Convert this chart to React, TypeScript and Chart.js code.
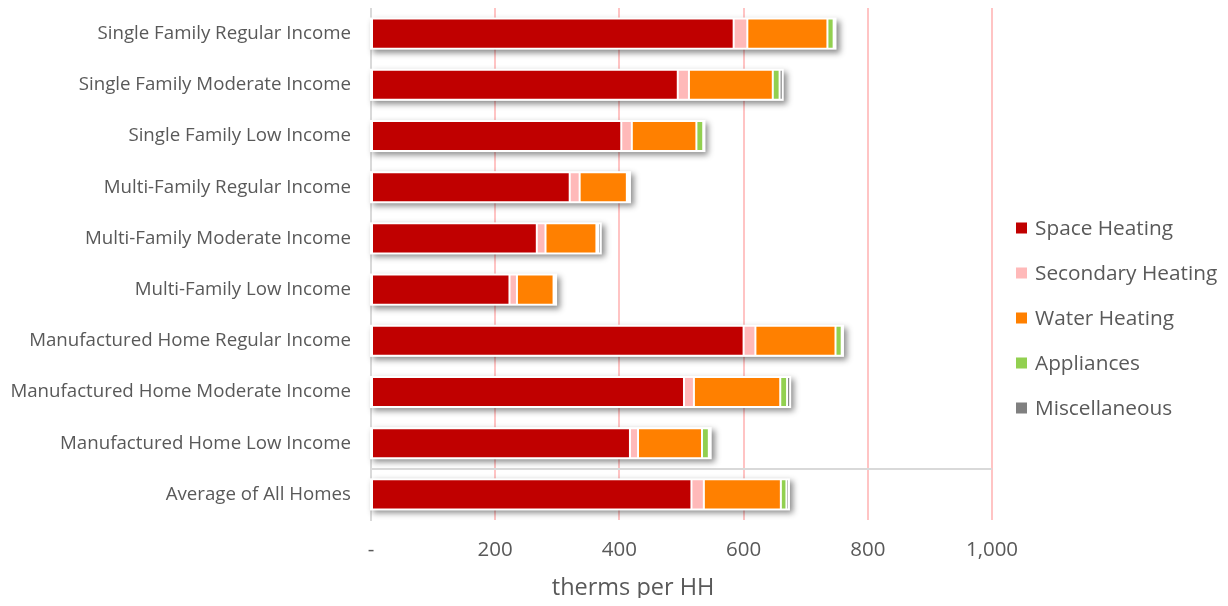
import React, { useEffect, useRef } from "react";
import { Chart, registerables } from "chart.js";

Chart.register(...registerables);

const categories = [
  "Single Family Regular Income",
  "Single Family Moderate Income",
  "Single Family Low Income",
  "Multi-Family Regular Income",
  "Multi-Family Moderate Income",
  "Multi-Family Low Income",
  "Manufactured Home Regular Income",
  "Manufactured Home Moderate Income",
  "Manufactured Home Low Income",
  "Average of All Homes",
];

const spaceHeating = [584, 494, 403, 320, 267, 223, 600, 504, 417, 516];
const secondaryHeating = [22, 18, 17, 16, 14, 12, 19, 16, 13, 20];
const waterHeating = [129, 135, 104, 76, 82, 59, 129, 139, 103, 124];
const appliances = [10, 11, 11, 3, 3, 2, 10, 11, 11, 9];
const miscellaneous = [3, 5, 2, 2, 4, 2, 2, 5, 3, 4];

const seriesNames = ["Space Heating", "Secondary Heating", "Water Heating", "Appliances", "Miscellaneous"];
const seriesColors = ["#c00000", "#ffb9b9", "#ff8000", "#92d050", "#808080"];

const xTicks = [0, 200, 400, 600, 800, 1000];
const xAxisTitle = "therms per HH";

const TEXT = "#595959";
const FONT = "'Open Sans', sans-serif";

const shadowPlugin = {
  id: "barShadow",
  beforeDatasetsDraw(chart: any) {
    const ctx = chart.ctx;
    const xs = chart.scales.x;
    const first = chart.getDatasetMeta(0);
    ctx.save();
    categories.forEach((_, i) => {
      const total =
        spaceHeating[i] + secondaryHeating[i] + waterHeating[i] + appliances[i] + miscellaneous[i];
      const el = first.data[i];
      if (!el) return;
      const h = el.height;
      const left = xs.getPixelForValue(0);
      const right = xs.getPixelForValue(total);
      ctx.shadowColor = "rgba(0,0,0,0.45)";
      ctx.shadowBlur = 6;
      ctx.shadowOffsetX = 3;
      ctx.shadowOffsetY = 3;
      ctx.fillStyle = "#ffffff";
      ctx.fillRect(left - 1, el.y - h / 2 - 1, right - left + 2, h + 2);
    });
    ctx.restore();
  },
};

const legendPlugin = {
  id: "sideLegend",
  afterDraw(chart: any) {
    const ctx = chart.ctx;
    const area = chart.chartArea;
    const x0 = area.right + 24;
    const y0 = 220;
    const step = 45;
    ctx.save();
    ctx.font = `20.8px ${FONT}`;
    ctx.textBaseline = "middle";
    ctx.textAlign = "left";
    chart.data.datasets.forEach((ds: any, i: number) => {
      const y = y0 + i * step;
      ctx.fillStyle = ds.backgroundColor;
      ctx.fillRect(x0, y - 5.5, 11, 11);
      ctx.fillStyle = TEXT;
      ctx.fillText(ds.label, x0 + 19, y + 1);
    });
    // axis title
    ctx.font = `23.5px ${FONT}`;
    ctx.textAlign = "center";
    ctx.textBaseline = "alphabetic";
    ctx.fillStyle = TEXT;
    const tx = area.left + (area.right - area.left) * 0.422;
    ctx.fillText(xAxisTitle, tx, area.bottom + 75);
    ctx.restore();
  },
};

export default function App() {
  const ref = useRef<HTMLCanvasElement | null>(null);
  useEffect(() => {
    if (!ref.current) return;
    const values = [spaceHeating, secondaryHeating, waterHeating, appliances, miscellaneous];
    const datasets = seriesNames.map((label, k) => ({
      label,
      data: values[k],
      backgroundColor: seriesColors[k],
      borderColor: "#ffffff",
      borderWidth: 1,
      borderSkipped: false,
      categoryPercentage: 0.6,
      barPercentage: 0.98,
    }));
    const chart = new Chart(ref.current, {
      type: "bar",
      data: { labels: categories, datasets },
      plugins: [shadowPlugin, legendPlugin],
      options: {
        indexAxis: "y",
        animation: false,
        responsive: true,
        maintainAspectRatio: false,
        layout: { padding: { top: 0, right: 228, bottom: 0, left: 0 } },
        plugins: {
          tooltip: { enabled: false },
          legend: { display: false },
        },
        scales: {
          x: {
            stacked: true,
            min: 0,
            max: 1000,
            afterBuildTicks: (s: any) => {
              s.ticks = xTicks.map((v) => ({ value: v }));
            },
            afterFit: (s: any) => {
              s.height = 86;
            },
            ticks: {
              color: TEXT,
              font: { family: FONT, size: 20.5 },
              padding: 17.5,
              callback: (v: any) => (Number(v) === 0 ? "-" : Number(v).toLocaleString("en-US")),
            },
            grid: {
              color: (c: any) => (c.index === 0 ? "rgba(0,0,0,0)" : "#ffc4c4"),
              lineWidth: 2,
              drawTicks: false,
            },
            border: { display: false },
            title: { display: false },
          },
          y: {
            stacked: true,
            afterFit: (s: any) => {
              s.width = 363;
              s.paddingTop = 0;
              s.paddingBottom = 0;
            },
            ticks: {
              color: TEXT,
              font: { family: FONT, size: 18.7 },
              padding: 20,
            },
            grid: {
              color: (c: any) => (c.index === 9 ? "#d9d9d9" : "rgba(0,0,0,0)"),
              lineWidth: 2,
              drawTicks: false,
            },
            border: { color: "#d9d9d9", width: 2 },
          },
        },
      },
    } as any);
    return () => chart.destroy();
  }, []);
  return (
    <div style={{ width: 1212, height: 598, marginBottom: -8, position: "relative" }}>
      <canvas ref={ref} />
    </div>
  );
}
